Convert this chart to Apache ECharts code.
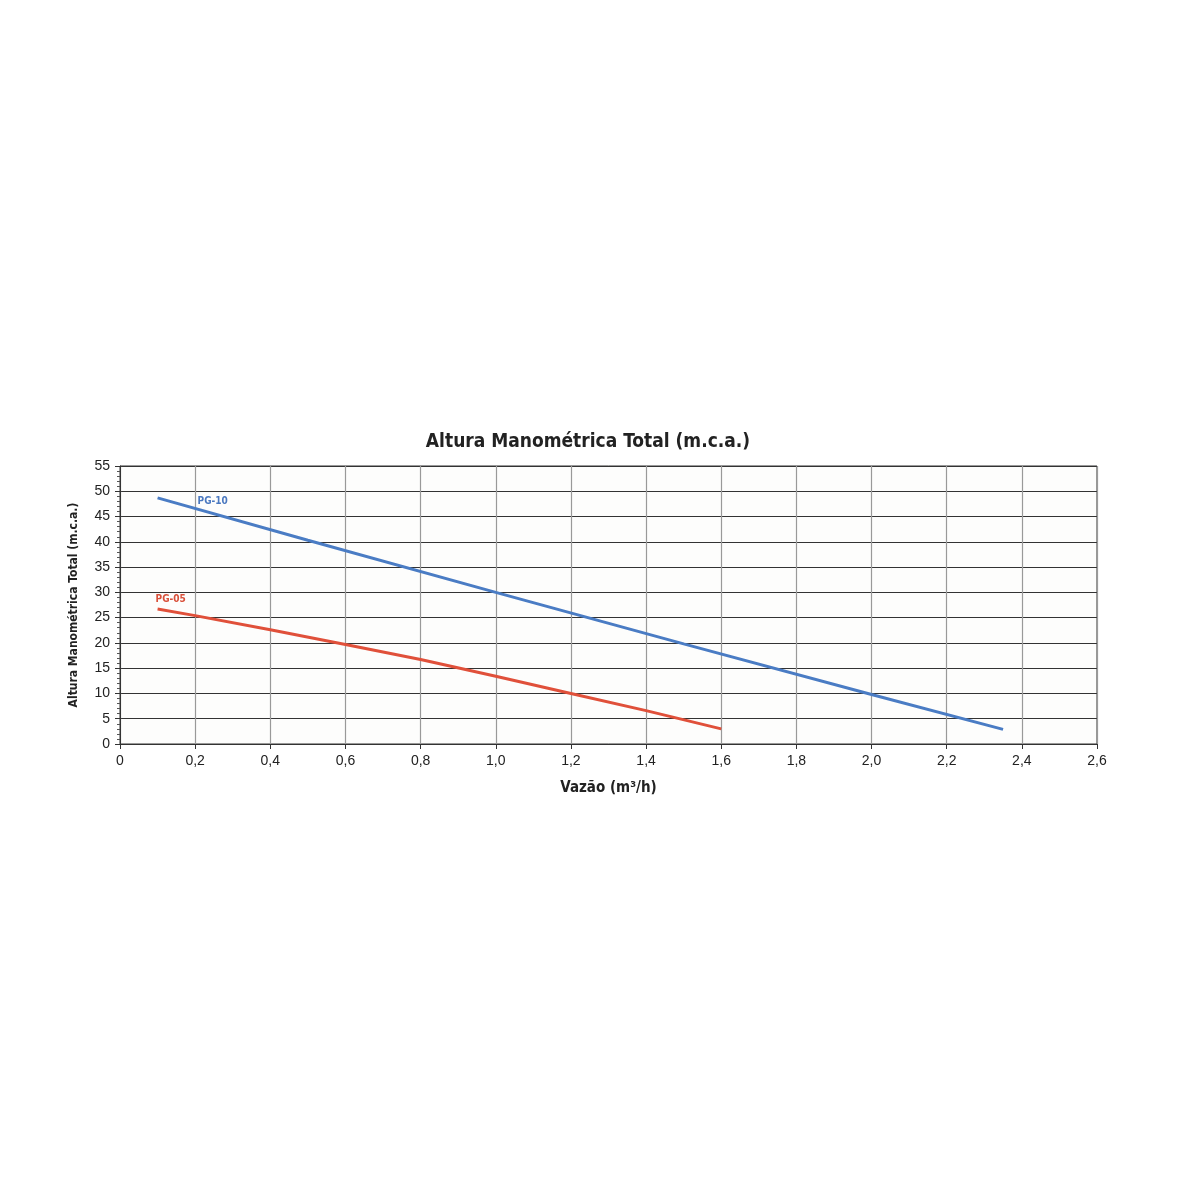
<!DOCTYPE html>
<html><head><meta charset="utf-8">
<script src="https://cdn.jsdelivr.net/npm/echarts@6/dist/echarts.min.js"></script>
<style>html,body{margin:0;padding:0;background:#fff}#c{width:1200px;height:1200px}</style>
</head><body><div id="c"></div>
<script>
const titleText = 'Altura Manométrica Total (m.c.a.)';
const xName = 'Vazão (m³/h)';
const yName = 'Altura Manométrica Total (m.c.a.)';
const seriesNames = ['PG-10', 'PG-05'];
const pg10 = [[0.1, 48.7], [0.5, 40.3], [1.0, 30.0], [1.5, 19.8], [2.0, 9.8], [2.35, 2.9]];
const pg05 = [[0.1, 26.7], [0.2, 25.4], [0.4, 22.6], [0.6, 19.7], [0.8, 16.7], [1.0, 13.4], [1.2, 10.0], [1.4, 6.6], [1.6, 3.0]];
const xMin = 0, xMax = 2.6, xStep = 0.2;
const yMin = 0, yMax = 55, yStep = 5;

const condensed = '"DejaVu Sans Condensed", "Liberation Sans Narrow", sans-serif';
const chart = echarts.init(document.getElementById('c'));
function withLabel(data, text, color, offset) {
  return data.map((d, i) => i === 0 ? {
    value: d,
    label: { show: true, formatter: text, color: color, fontFamily: condensed, fontWeight: 'bold', fontSize: 10, position: 'top', align: 'left', offset: offset }
  } : d);
}
chart.setOption({
  backgroundColor: '#ffffff',
  title: {
    text: titleText, left: 583, top: 428, textAlign: 'center',
    textStyle: { fontFamily: condensed, fontWeight: 'bold', fontSize: 19, color: '#222' }
  },
  grid: { left: 120, right: 103, top: 466, bottom: 456, show: true, backgroundColor: '#fdfdfc', borderColor: '#333', borderWidth: 1 },
  xAxis: {
    type: 'value', min: xMin, max: xMax, interval: xStep,
    name: xName, nameLocation: 'middle', nameGap: 37,
    nameTextStyle: { fontFamily: condensed, fontWeight: 'bold', fontSize: 15, color: '#222' },
    axisLine: { lineStyle: { color: '#333' } },
    axisTick: { show: true, length: 5, lineStyle: { color: '#333' } },
    axisLabel: { fontFamily: 'Liberation Sans, Arial, sans-serif', fontSize: 14, color: '#222', margin: 10,
      formatter: v => v.toFixed(v === 0 ? 0 : 1).replace('.', ',') },
    splitLine: { show: true, lineStyle: { color: '#999', width: 1.2 } }
  },
  yAxis: {
    type: 'value', min: yMin, max: yMax, interval: yStep,
    name: yName, nameLocation: 'middle', nameGap: 40, nameRotate: 90,
    nameTextStyle: { fontFamily: condensed, fontWeight: 'bold', fontSize: 12, color: '#222' },
    axisLine: { show: true, lineStyle: { color: '#333' } },
    axisTick: { show: true, length: 5, lineStyle: { color: '#333' } },
    minorTick: { show: true, splitNumber: 5, length: 3, lineStyle: { color: '#555' } },
    axisLabel: { fontFamily: 'Liberation Sans, Arial, sans-serif', fontSize: 14, color: '#222', margin: 10 },
    splitLine: { show: true, lineStyle: { color: '#333', width: 1.2 } }
  },
  series: [
    { name: seriesNames[0], type: 'line', data: withLabel(pg10, seriesNames[0], '#4a78c0', [40, 14]), showSymbol: true, symbol: 'circle', symbolSize: 0,
      lineStyle: { color: '#4a7cc4', width: 3 }, itemStyle: { color: '#4a7cc4' }, smooth: false, animation: false,
      label: { show: false } },
    { name: seriesNames[1], type: 'line', data: withLabel(pg05, seriesNames[1], '#d9503a', [-2, 0]), showSymbol: true, symbol: 'circle', symbolSize: 0,
      lineStyle: { color: '#e0503a', width: 3 }, itemStyle: { color: '#e0503a' }, smooth: false, animation: false,
      label: { show: false } }
  ]
});
</script></body></html>
